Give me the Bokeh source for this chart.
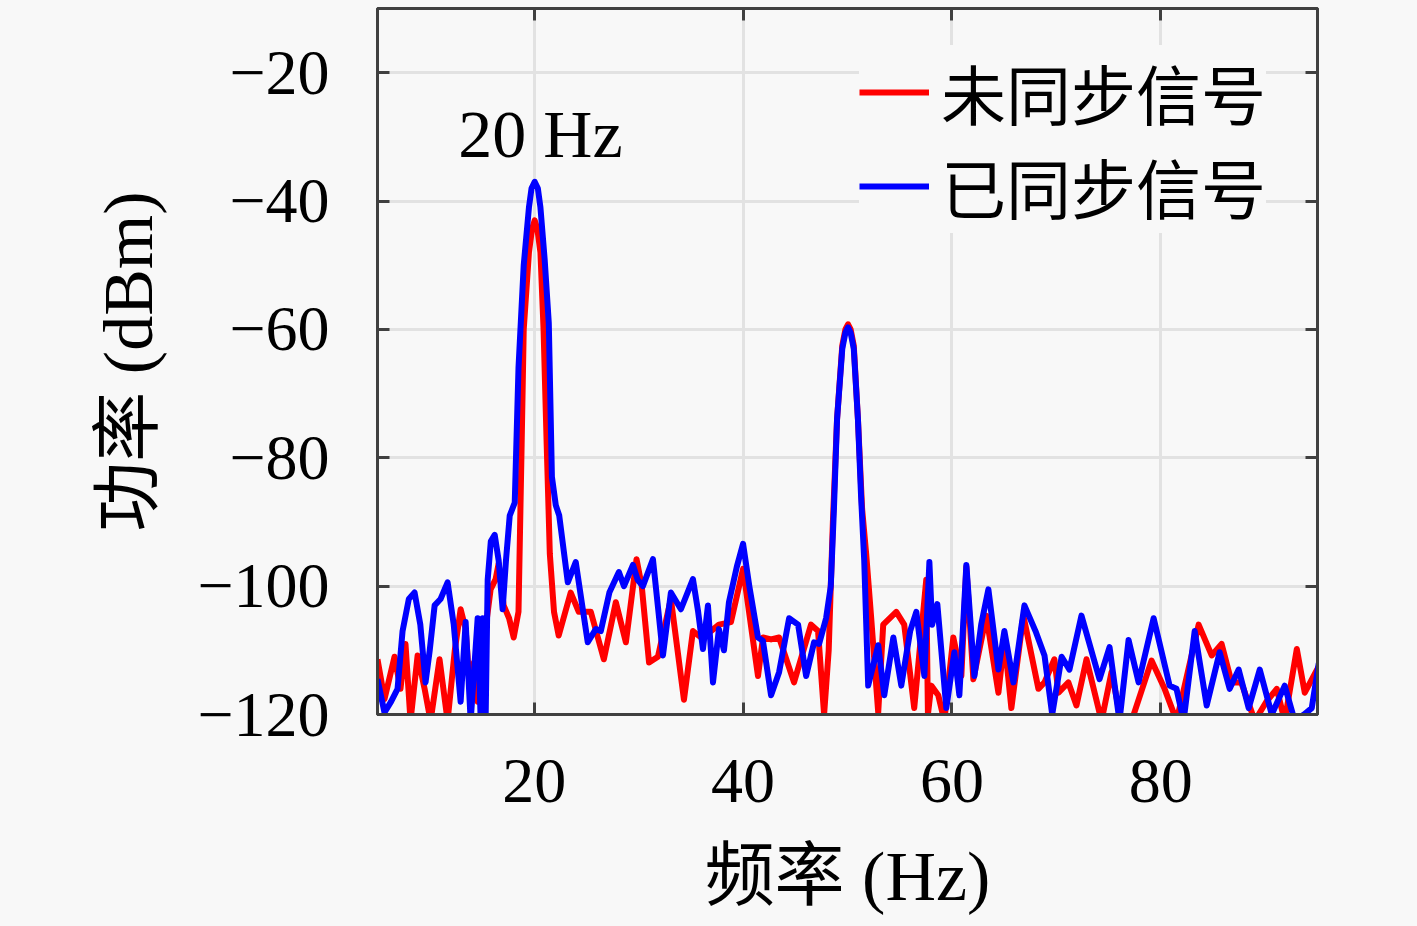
from bokeh.plotting import figure
from bokeh.models import Range1d, FixedTicker, LinearAxis, Legend, LegendItem, Label
from bokeh.embed import file_html
from bokeh.resources import INLINE

# ---------------- data ----------------
freq_sync = [5.0, 5.67, 6.3, 6.92, 7.40, 8.0, 8.55, 9.1, 9.60, 10.0, 10.47, 11.04, 11.71, 12.3, 12.96,
             13.44, 13.92, 14.59, 14.88, 15.07, 15.35, 15.55, 15.85, 16.22, 16.6, 16.98, 17.3, 17.66,
             18.14, 18.5, 19.0, 19.5, 19.75, 20.05, 20.35, 20.6, 21.0, 21.4, 21.7, 22.07, 22.4, 23.22,
             23.98, 24.6, 25.13, 25.9, 26.38, 27.2, 28.11, 28.6, 29.46, 29.9, 30.41, 31.37, 31.9, 32.33,
             33.09, 34.05, 35.2, 35.7, 36.16, 36.64, 37.12, 37.69, 38.17, 38.65, 39.4, 40.0, 40.6, 41.43,
             41.9, 42.68, 43.45, 44.41, 45.27, 46.04, 46.8, 47.28, 47.95, 48.4, 48.7, 49.0, 49.5, 49.8,
             50.05, 50.3, 50.6, 51.0, 51.3, 51.6, 51.98, 52.94, 53.52, 54.39, 55.15, 56.0, 56.59, 57.36,
             57.84, 58.1, 58.6, 59.46, 60.23, 60.71, 61.38, 62.15, 62.8, 63.49, 64.45, 65.02, 65.89,
             66.94, 68.0, 68.86, 69.6, 70.5, 71.25, 72.40, 74.13, 75.09, 76.04, 76.91, 77.87, 79.31,
             80.84, 81.5, 82.18, 83.24, 84.39, 85.63, 86.59, 87.45, 88.41, 89.47, 90.62, 91.86,
             92.82, 93.7, 94.45, 95.12]
power_sync = [-114.5, -119.7, -118, -116, -107, -102, -101, -106, -115, -110, -103, -102, -99.4, -106, -118,
              -105.6, -121, -105, -121, -105, -121, -99, -93, -92, -96, -103.6, -96, -89,
              -87, -66, -50, -41, -38, -37, -38, -41, -49, -59, -83, -87.4, -89, -99.4,
              -96.25, -103, -108.75, -106.7, -107, -101, -97.8, -100, -96.7, -99, -100, -95.8, -104, -110.8,
              -101, -103.6, -98.9, -104, -109.8, -103, -115, -106.7, -110, -102.5, -97, -93.4, -100, -108,
              -108.5, -117, -113.4, -105, -106, -114, -108.75, -109, -105, -100, -88, -74, -63, -60.5,
              -59.7, -60.5, -63, -74, -86, -96, -115.5, -109.2, -117, -108, -115.5, -107, -104, -114,
              -96.25, -106, -102.8, -119, -110.3, -117, -96.7, -114, -106, -100.5, -113, -107, -115,
              -103, -107, -110.8, -120, -111, -113, -104.6, -114.5, -109.5, -121, -108.4, -115, -105,
              -115.5, -116, -121, -107, -118.6, -110.3, -116, -113, -119, -113, -120, -115.5,
              -121, -120, -119, -112]

freq_unsync = [5.0, 5.67, 6.63, 7.2, 7.68, 8.16, 8.84, 9.51, 10.08, 10.94, 11.71, 12.4, 12.96, 13.44,
               13.8, 14.2, 14.6, 15.0, 15.4, 15.83, 16.31, 16.6, 17.08, 17.6, 18.04, 18.5, 18.8, 19.0,
               19.5, 19.8, 20.05, 20.3, 20.6, 20.9, 21.2, 21.5, 21.9, 22.35, 23.5, 24.27, 25.42, 26.67,
               27.82, 28.78, 29.8, 30.3, 31.0, 31.85, 33.09, 34.34, 35.2, 35.97, 36.93, 37.69, 38.84, 40.0,
               41.43, 41.91, 42.68, 43.45, 44.88, 46.51, 47.18, 47.76, 48.2, 48.6, 49.0, 49.5, 49.8, 50.05,
               50.3, 50.6, 51.0, 51.4, 51.79, 52.27, 52.94, 53.42, 54.67, 55.43, 56.39, 57.54, 57.7, 58.02,
               58.69, 59.27, 60.13, 60.9, 61.38, 62.05, 63.29, 64.45, 65.02, 65.69, 66.84, 68.28,
               68.86, 69.81, 70.2, 71.15, 71.92, 72.88, 74.32, 75.28, 76.2, 77.2, 79.11, 80.36, 81.51,
               83.62, 84.87, 85.82, 86.78, 87.7, 89.0, 90.1, 91.1, 91.86, 93.02, 93.78, 95.12]
power_unsync = [-111.4, -117.6, -111, -116, -109, -121, -110.8, -116, -121, -111.4, -121, -110, -103.6, -106.7,
                -115, -112, -118, -111, -106, -100.5, -98.9, -96.5, -103, -105, -108, -104, -78, -60,
                -48, -44.3, -43, -44.3, -48, -60, -78, -95, -104, -107.7, -101, -104, -104, -111.4,
                -102.5, -108.75, -95.8, -100, -111.9, -111, -102, -117.7, -107, -108, -107, -106, -105.6, -97.3,
                -114, -108, -108.3, -108, -115, -106, -107, -120, -110, -90, -74, -62.5, -60, -59.2,
                -60, -62.5, -74, -88, -95, -105, -119.7, -106, -104, -106, -119, -99, -120, -115.5,
                -117, -121, -108, -114, -97, -114.5, -104.6, -116.6, -108.3, -119, -104.6, -116,
                -115, -111.4, -116.6, -115, -118.6, -111.4, -121, -113.4, -121, -121, -111.6, -116, -121,
                -106, -110.8, -109, -115, -115, -121, -118, -116, -121, -109.8, -116.6, -112.5]

x_ticks = [20, 40, 60, 80]
y_ticks = [-120, -100, -80, -60, -40, -20]
y_tick_labels = ["\u2212120", "\u2212100", "\u221280", "\u221260", "\u221240", "\u221220"]
series_names = ["未同步信号", "已同步信号"]
x_label = "频率 (Hz)"
y_label = "功率 (dBm)"
peak_note = "20 Hz"

# ---------------- styling ----------------
BG = "#f8f8f8"
AX = "#404040"
GRID = "#e2e2e2"
SERIF = "'Liberation Serif', 'Noto Sans CJK SC'"
CJK = "'Noto Sans CJK SC'"

p = figure(width=1409, height=918, output_backend="svg", toolbar_location=None,
           x_range=Range1d(5, 95), y_range=Range1d(-120, -10),
           min_border_left=377, min_border_right=92, min_border_top=8, min_border_bottom=204)
p.background_fill_color = BG
p.border_fill_color = BG
p.outline_line_color = AX
p.outline_line_width = 3

xt = FixedTicker(ticks=x_ticks)
yt = FixedTicker(ticks=y_ticks)
p.xaxis.ticker = xt
p.yaxis.ticker = yt
p.xgrid.ticker = xt
p.ygrid.ticker = yt
for g in (p.xgrid, p.ygrid):
    g.grid_line_color = GRID
    g.grid_line_width = 3

p.yaxis.major_label_overrides = {t: s for t, s in zip(y_ticks, y_tick_labels)}

def style_axis(ax, show_labels):
    ax.axis_line_color = AX
    ax.axis_line_width = 3
    ax.major_tick_in = 12
    ax.major_tick_out = 0
    ax.major_tick_line_color = AX
    ax.major_tick_line_width = 3
    ax.minor_tick_line_color = None
    if not show_labels:
        ax.major_label_text_font_size = "0px"
        ax.major_label_text_color = None
        ax.major_label_standoff = 0
    else:
        ax.major_label_text_font = SERIF
        ax.major_label_text_font_size = "64px"
        ax.major_label_text_color = "black"
        ax.axis_label_text_font = SERIF
        ax.axis_label_text_font_size = "70px"
        ax.axis_label_text_font_style = "normal"
        ax.axis_label_text_color = "black"

style_axis(p.xaxis[0], True)
style_axis(p.yaxis[0], True)
p.xaxis.axis_label = x_label
p.yaxis.axis_label = y_label
p.xaxis.major_label_standoff = 45
p.xaxis.axis_label_standoff = 33
p.yaxis.major_label_standoff = 48
p.yaxis.axis_label_standoff = 27

top_ax = LinearAxis(ticker=xt)
right_ax = LinearAxis(ticker=yt)
style_axis(top_ax, False)
style_axis(right_ax, False)
p.add_layout(top_ax, "above")
p.add_layout(right_ax, "right")

r_un = p.line(freq_unsync, power_unsync, line_color="#ff0000", line_width=6, line_join="round")
r_sy = p.line(freq_sync, power_sync, line_color="#0000ff", line_width=6, line_join="round")

legend = Legend(items=[LegendItem(label=series_names[0], renderers=[r_un]),
                       LegendItem(label=series_names[1], renderers=[r_sy])],
                location=(482, 481))
legend.background_fill_color = BG
legend.background_fill_alpha = 1.0
legend.border_line_color = None
legend.label_text_font = CJK
legend.label_text_font_size = "65px"
legend.label_text_color = "black"
legend.label_height = 64
legend.glyph_height = 64
legend.glyph_width = 70
legend.spacing = 0
legend.padding = 13
legend.label_standoff = 12
legend.margin = 0
p.add_layout(legend)

p.add_layout(Label(x=20.6, y=-29.5, text=peak_note, text_align="center", text_baseline="middle",
                   text_font="Liberation Serif", text_font_size="68px", text_color="black"))

html = file_html(p, INLINE)
html = html.replace("<head>", "<head><style>body{background:#f8f8f8;}</style>", 1)
open("out.html", "w").write(html)
